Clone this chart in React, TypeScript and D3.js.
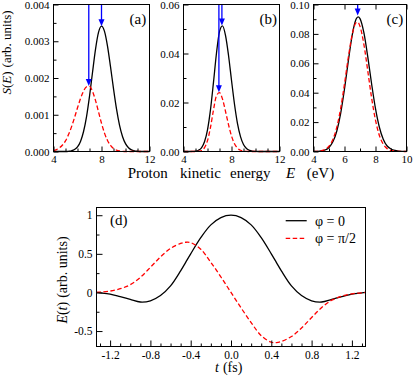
import { useEffect, useRef } from "react";
import * as d3 from "d3";

const FONT = "Liberation Serif, DejaVu Serif, Times New Roman, serif";
const BLUE = "#0000ff";
const RED = "#ff0000";
const DASH = "4.5,2.5";

// ---- panels (a), (b): energy grid 4..12 eV
const energyAB = [4, 4.25, 4.5, 4.75, 5, 5.25, 5.5, 5.75, 6, 6.25, 6.5, 6.75, 7, 7.25, 7.5, 7.75, 8,
  8.25, 8.5, 8.75, 9, 9.25, 9.5, 9.75, 10, 10.25, 10.5, 10.75, 11, 11.25, 11.5, 11.75, 12];

const specA0 = [0, 0, 0, 0, 0, 0.000006, 0.00002, 0.000053, 0.000127, 0.000275, 0.000537, 0.000944,
  0.0015, 0.00215, 0.00278, 0.00324, 0.00341, 0.00327, 0.00287, 0.00231, 0.00171, 0.00116, 0.00072,
  0.00041, 0.000214, 0.000103, 0.000045, 0.000018, 0.000007, 0, 0, 0, 0];
const specAPi = [0.000027, 0.000053, 0.0001, 0.000176, 0.00029, 0.00046, 0.00067, 0.00092, 0.00119,
  0.00144, 0.00164, 0.00176, 0.00177, 0.00164, 0.00139, 0.00108, 0.00077, 0.0005, 0.0003, 0.000167,
  0.000084, 0.000039, 0.000017, 0.000006, 0, 0, 0, 0, 0, 0, 0, 0, 0];

const specB0 = [0, 0, 0, 0.00003, 0.00014, 0.0005, 0.00151, 0.00395, 0.00886, 0.0171, 0.0283, 0.0402,
  0.0489, 0.0513, 0.0474, 0.0393, 0.0291, 0.0193, 0.0114, 0.00607, 0.00288, 0.00123, 0.00047, 0.00016,
  0.00005, 0, 0, 0, 0, 0, 0, 0, 0];
const specBPi = [0, 0, 0, 0, 0.00001, 0.00009, 0.00043, 0.00157, 0.00445, 0.00986, 0.017, 0.0228, 0.024,
  0.0214, 0.0164, 0.011, 0.00635, 0.00318, 0.00138, 0.00052, 0.00017, 0.00005, 0, 0, 0, 0, 0, 0, 0, 0,
  0, 0, 0];

// ---- panel (c): energy grid 4..10 eV
const energyC = [4, 4.25, 4.5, 4.75, 5, 5.25, 5.5, 5.75, 6, 6.25, 6.5, 6.75, 6.875, 7, 7.25, 7.5, 7.75,
  8, 8.25, 8.5, 8.75, 9, 9.25, 9.5, 9.75, 10];
const specC0 = [0.00002, 0.00009, 0.00033, 0.00102, 0.00275, 0.00657, 0.0138, 0.0258, 0.0425, 0.0618,
  0.0794, 0.0901, 0.0916, 0.0904, 0.0808, 0.0645, 0.0459, 0.0291, 0.0165, 0.00834, 0.00376, 0.0017,
  0.0007, 0.00025, 0.00008, 0.00002];
const specCPi = [0.00004, 0.00015, 0.00049, 0.00141, 0.00361, 0.00817, 0.0164, 0.0292, 0.046, 0.0643,
  0.0797, 0.0876, 0.0878, 0.0851, 0.0729, 0.0549, 0.0364, 0.0213, 0.0109, 0.00494, 0.00196, 0.00069,
  0.00021, 0.00006, 0.00001, 0];

// peak-position arrows (E, S at tip)
const arrowEA = [6.94, 8.0];
const arrowSA = [0.00178, 0.00341];
const arrowEB = [6.95, 7.2];
const arrowSB = [0.0242, 0.0514];
const arrowEC = [6.85];
const arrowSC = [0.0925];

// ---- panel (d): field E(t)
const timeD = [-1.335, -1.3, -1.2, -1.1, -1.0, -0.9, -0.8, -0.7, -0.6, -0.5, -0.45, -0.4, -0.3, -0.2, -0.1,
  0, 0.1, 0.2, 0.3, 0.4, 0.45, 0.5, 0.6, 0.7, 0.8, 0.9, 1.0, 1.1, 1.2, 1.3, 1.335];
const fieldPhi0 = [0, -0.005, -0.022, -0.055, -0.09, -0.124, -0.108, -0.04, 0.085, 0.28, 0.39, 0.5, 0.71,
  0.875, 0.97, 1.0, 0.97, 0.875, 0.71, 0.5, 0.39, 0.28, 0.085, -0.04, -0.108, -0.124, -0.09, -0.055,
  -0.022, -0.005, 0];
const fieldPhiPi2 = [0, 0.005, 0.018, 0.048, 0.1, 0.195, 0.325, 0.46, 0.57, 0.635, 0.65, 0.645, 0.56,
  0.39, 0.2, 0, -0.2, -0.39, -0.56, -0.645, -0.65, -0.635, -0.57, -0.46, -0.325, -0.195, -0.1, -0.048,
  -0.018, -0.005, 0];

const legendLabels = ["φ = 0", "φ = π/2"];

const Axis = ({ scale, orient, major, minor = [], format, fontSize = 11, majorLen = 5, minorLen = 3 }) => {
  const ref = useRef(null);
  useEffect(() => {
    const g = d3.select(ref.current);
    g.selectAll("*").remove();
    const make = orient === "bottom" ? d3.axisBottom : orient === "left" ? d3.axisLeft : d3.axisTop;
    g.append("g").call(make(scale).tickValues(minor).tickSizeInner(-minorLen).tickSizeOuter(0).tickFormat(() => ""));
    g.append("g").call(
      make(scale).tickValues(major).tickSizeInner(-majorLen).tickSizeOuter(0).tickPadding(4)
        .tickFormat(format ? format : () => "")
    );
    g.selectAll(".domain").remove();
    g.selectAll("g").attr("font-family", null).attr("font-size", null);
    g.selectAll("line").attr("stroke", "#000");
    g.selectAll("text").style("font-family", FONT).style("font-size", fontSize + "px").attr("fill", "#000");
  }, [scale, orient, major, minor, format]);
  return <g ref={ref} />;
};

const Arrows = ({ x, y, es, ss, top }) => (
  <g>
    {es.map((e, i) => {
      const ax = x(e);
      const tip = y(ss[i]);
      return (
        <g key={i}>
          <line x1={ax} x2={ax} y1={top} y2={tip - 5} stroke={BLUE} strokeWidth={1.3} />
          <path d={`M${ax - 3},${tip - 7} L${ax + 3},${tip - 7} L${ax},${tip} Z`} fill={BLUE} />
        </g>
      );
    })}
  </g>
);

const SpectrumPanel = ({ xRange, xDomain, yDomain, energy, s0, sPi, arrE, arrS, xMajor, xMinor, yMajor, yMinor, yFmt, label, topTicks }) => {
  const x = d3.scaleLinear().domain(xDomain).range(xRange);
  const y = d3.scaleLinear().domain(yDomain).range([151.5, 4.5]);
  const line = (vals) =>
    d3.line().x((d, i) => x(energy[i])).y((d) => y(d)).curve(d3.curveMonotoneX)(vals);
  return (
    <g>
      <path d={line(s0)} fill="none" stroke="#000" strokeWidth={1.3} />
      <path d={line(sPi)} fill="none" stroke={RED} strokeWidth={1.3} strokeDasharray={DASH} />
      <Arrows x={x} y={y} es={arrE} ss={arrS} top={4.5} />
      <g transform="translate(0,151.5)">
        <Axis scale={x} orient="bottom" major={xMajor} minor={xMinor} format={(d) => String(d)} />
      </g>
      <g transform={`translate(${xRange[0]},0)`}>
        <Axis scale={y} orient="left" major={yMajor} minor={yMinor} format={yFmt} />
      </g>
      {topTicks && (
        <g transform="translate(0,4.5)">
          <Axis scale={x} orient="top" major={xMajor} minor={[]} />
        </g>
      )}
      <rect x={xRange[0]} y={4.5} width={xRange[1] - xRange[0]} height={147} fill="none" stroke="#000" strokeWidth={1} />
      <text x={xRange[1] - 20} y={24} style={{ fontFamily: FONT, fontSize: 15 }}>{label}</text>
    </g>
  );
};

export default function App() {
  const xd = d3.scaleLinear().domain([-1.335, 1.335]).range([96.5, 365.5]);
  const yd = d3.scaleLinear().domain([-0.7, 1.1]).range([346.5, 207.5]);
  const lineD = (vals) =>
    d3.line().x((d, i) => xd(timeD[i])).y((d) => yd(d)).curve(d3.curveCatmullRom)(vals);

  const fmt3 = (d) => d.toFixed(3);
  const fmt2 = (d) => d.toFixed(2);
  const txt = (size) => ({ fontFamily: FONT, fontSize: size });

  return (
    <svg width={415} height={378} style={{ position: "absolute", left: 0, top: 0, background: "#fff", fontFamily: FONT }}>
      <SpectrumPanel
        xRange={[53.5, 149.5]} xDomain={[4, 12]} yDomain={[0, 0.004]}
        energy={energyAB} s0={specA0} sPi={specAPi} arrE={arrowEA} arrS={arrowSA}
        xMajor={[4, 8, 12]} xMinor={[5, 6, 7, 9, 10, 11]}
        yMajor={[0, 0.001, 0.002, 0.003, 0.004]} yMinor={[0.0005, 0.0015, 0.0025, 0.0035]}
        yFmt={fmt3} label="(a)"
      />
      <SpectrumPanel
        xRange={[183.5, 279.5]} xDomain={[4, 12]} yDomain={[0, 0.06]}
        energy={energyAB} s0={specB0} sPi={specBPi} arrE={arrowEB} arrS={arrowSB}
        xMajor={[4, 8, 12]} xMinor={[5, 6, 7, 9, 10, 11]}
        yMajor={[0, 0.02, 0.04, 0.06]} yMinor={[0.01, 0.03, 0.05]}
        yFmt={fmt2} label="(b)"
      />
      <SpectrumPanel
        xRange={[313.5, 406.5]} xDomain={[4, 10]} yDomain={[0, 0.1]}
        energy={energyC} s0={specC0} sPi={specCPi} arrE={arrowEC} arrS={arrowSC}
        xMajor={[4, 6, 8, 10]} xMinor={[5, 7, 9]}
        yMajor={[0, 0.02, 0.04, 0.06, 0.08, 0.1]} yMinor={[0.01, 0.03, 0.05, 0.07, 0.09]}
        yFmt={fmt2} label="(c)" topTicks
      />

      <text transform="translate(11,52.5) rotate(-90)" textAnchor="middle" style={txt(13)}>
        <tspan fontStyle="italic">S</tspan>(<tspan fontStyle="italic">E</tspan>)
        <tspan dx={4}>(arb. units)</tspan>
      </text>
      <g style={txt(15)}>
        <text x={127.7} y={178}>Proton</text>
        <text x={180} y={178}>kinetic</text>
        <text x={230} y={178}>energy</text>
        <text x={286} y={178} fontStyle="italic">E</text>
        <text x={306.7} y={178}>(eV)</text>
      </g>

      {/* panel (d) */}
      <path d={lineD(fieldPhi0)} fill="none" stroke="#000" strokeWidth={1.3} />
      <path d={lineD(fieldPhiPi2)} fill="none" stroke={RED} strokeWidth={1.3} strokeDasharray={DASH} />
      <g transform="translate(0,346.5)">
        <Axis scale={xd} orient="bottom" fontSize={11.5} majorLen={6}
          major={[-1.2, -0.8, -0.4, 0, 0.4, 0.8, 1.2]}
          minor={[-1.3, -1.1, -1.0, -0.9, -0.7, -0.6, -0.5, -0.3, -0.2, -0.1, 0.1, 0.2, 0.3, 0.5, 0.6, 0.7, 0.9, 1.0, 1.1, 1.3]}
          format={(d) => d.toFixed(1)} />
      </g>
      <g transform="translate(96.5,0)">
        <Axis scale={yd} orient="left" fontSize={11.5} majorLen={6}
          major={[-0.5, 0, 0.5, 1]} minor={[-0.25, 0.25, 0.75]} format={(d) => String(d)} />
      </g>
      <rect x={96.5} y={207.5} width={269} height={139} fill="none" stroke="#000" strokeWidth={1} />
      <text x={110} y={225} style={txt(15)}>(d)</text>

      {legendLabels.map((lab, i) => (
        <g key={lab} transform={`translate(0,${220.7 + i * 17.6})`}>
          <line x1={285.7} x2={306.7} y1={0} y2={0} stroke={i === 0 ? "#000" : RED} strokeWidth={1.3}
            strokeDasharray={i === 0 ? null : DASH} />
          <text x={315} y={5} style={txt(14)}>{lab}</text>
        </g>
      ))}

      <text transform="translate(67,280) rotate(-90)" textAnchor="middle" style={txt(14)}>
        <tspan fontStyle="italic">E</tspan>(<tspan fontStyle="italic">t</tspan>)
        <tspan dx={4}>(arb. units)</tspan>
      </text>
      <text x={215} y={372} style={txt(14)}>
        <tspan fontStyle="italic">t</tspan>
        <tspan dx={4}>(fs)</tspan>
      </text>
    </svg>
  );
}
